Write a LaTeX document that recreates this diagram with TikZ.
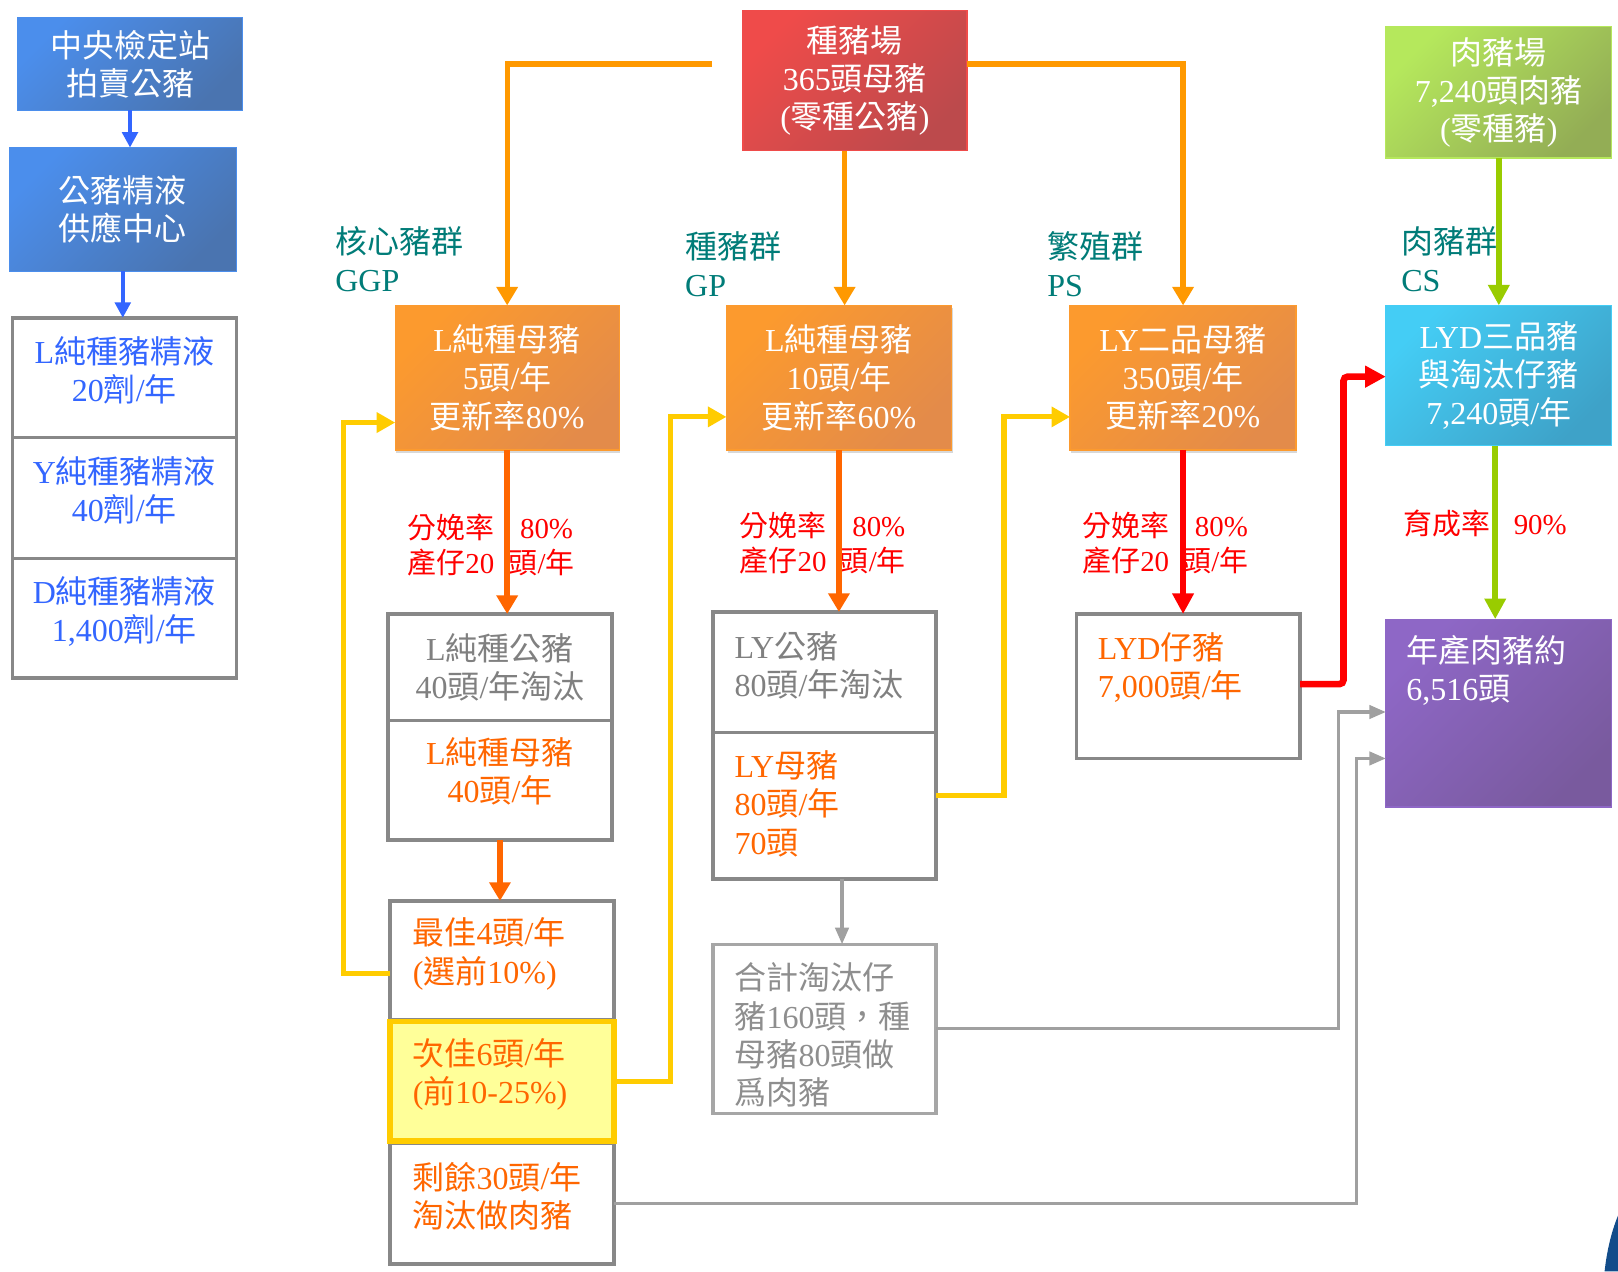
\documentclass[tikz,border=0pt]{standalone}
\usepackage{fontspec}
\setmainfont{Liberation Serif}
\newfontfamily\latinfont{Liberation Serif}
\newfontfamily\cjkfont{Noto Sans CJK TC}
\usetikzlibrary{arrows.meta,shadows}

% Han characters and fullwidth forms switch to the CJK family automatically
\XeTeXinterchartokenstate=1
\newXeTeXintercharclass\HanCls
\newcount\hancnt
\hancnt="2E80
\loop\ifnum\hancnt<"A000 \XeTeXcharclass\hancnt=\HanCls \advance\hancnt by 1 \repeat
\hancnt="FF00
\loop\ifnum\hancnt<"FFF0 \XeTeXcharclass\hancnt=\HanCls \advance\hancnt by 1 \repeat
\hancnt=32
\loop\ifnum\hancnt<127 \XeTeXcharclass\hancnt=0 \advance\hancnt by 1 \repeat
\XeTeXinterchartoks 0 \HanCls = {\cjkfont}
\XeTeXinterchartoks 4095 \HanCls = {\cjkfont}
\XeTeXinterchartoks \HanCls 0 = {\latinfont}
\XeTeXinterchartoks \HanCls 4095 = {\latinfont}
\XeTeXinterchartoks 4095 0 = {\latinfont}

\pgfdeclarelayer{bg}
\pgfsetlayers{bg,main}

% box fills
\definecolor{cBlA}{HTML}{4B8EEC}\definecolor{cBlB}{HTML}{4A74B0}
\definecolor{cOrA}{HTML}{FC9A2E}\definecolor{cOrB}{HTML}{E38B4A}
\definecolor{cRdA}{HTML}{EF4B4A}\definecolor{cRdB}{HTML}{BC4A4C}
\definecolor{cGnA}{HTML}{B5E85C}\definecolor{cGnB}{HTML}{93AD55}
\definecolor{cCyA}{HTML}{44CDF5}\definecolor{cCyB}{HTML}{3EA2C8}
\definecolor{cPuA}{HTML}{8E67C6}\definecolor{cPuB}{HTML}{795A9E}
\definecolor{cYelFill}{HTML}{FFFF99}
% lines
\definecolor{lBlue}{HTML}{3366FF}
\definecolor{lOrange}{HTML}{FF9900}
\definecolor{lYellow}{HTML}{FFCC00}
\definecolor{lRed}{HTML}{FF0000}
\definecolor{lGreen}{HTML}{99CC00}
\definecolor{lOrRed}{HTML}{FF6600}
\definecolor{lGray}{HTML}{A0A0A0}
\definecolor{bGray}{HTML}{888888}
\definecolor{bLGray}{HTML}{A6A6A6}
% texts
\definecolor{tBlue}{HTML}{3366FF}
\definecolor{tOrange}{HTML}{FF6600}
\definecolor{tGray}{HTML}{808080}
\definecolor{tLGray}{HTML}{8E8E8E}
\definecolor{tTeal}{HTML}{007C78}
\definecolor{tRate}{HTML}{FF0000}
\definecolor{cSliver}{HTML}{124C8A}

% box from corner (#2,#3) to corner (#4,#5)
\newcommand\bx[7]{%
  \pgfmathsetmacro\bxcx{(#2+#4)/2}%
  \pgfmathsetmacro\bxcy{(#3+#5)/2}%
  \pgfmathsetmacro\bxw{(#4-#2)/2}%
  \pgfmathsetmacro\bxh{(#5-#3)/2}%
  \node[#6, minimum width=\bxw pt, minimum height=\bxh pt] (#1) at (\bxcx,\bxcy) {#7};%
}

\begin{document}
\begin{tikzpicture}[x=0.5pt,y=-0.5pt,
  every node/.style={inner sep=0pt, outer sep=0pt},
  btxt/.style={font=\fontsize{15.5}{18.5}\selectfont, align=center},
  ltxt/.style={font=\fontsize{15.5}{18.5}\selectfont, align=left, anchor=west},
  grp/.style={font=\fontsize{15.5}{18.5}\selectfont, align=left, anchor=west, text=tTeal},
  rate/.style={font=\fontsize{14}{17}\selectfont, align=left, anchor=west, text=tRate},
  shbox/.style 2 args={top color=#1, bottom color=#2, shading angle=45, draw=#1, line width=0.6pt},
  orbox/.style={shbox={cOrA}{cOrB}, drop shadow={shadow xshift=0.6pt, shadow yshift=-1.4pt, opacity=0.3}},
  gbox/.style={draw=bGray, line width=1.7pt, fill=white},
  blarr/.style={draw=lBlue, line width=2pt, -{Triangle[length=7pt,width=7.5pt]}},
  ortop/.style={draw=lOrange, line width=2.5pt, -{Triangle[length=9pt,width=10pt]}},
  ordn/.style={draw=lOrRed, line width=3pt, -{Triangle[length=9pt,width=10pt]}},
  yl/.style={draw=lYellow, line width=2.5pt, -{Triangle[length=9pt,width=9.5pt]}},
  rd/.style={draw=lRed, line width=3.2pt, -{Triangle[length=10pt,width=10pt]}},
  gn/.style={draw=lGreen, line width=3pt, -{Triangle[length=10pt,width=10pt]}},
  gy/.style={draw=lGray, line width=1.5pt, -{Triangle[length=8pt,width=6.5pt]}}
]
\fill[white] (0,0) rectangle (1568,1232);
\useasboundingbox (0,0) rectangle (1568,1232);

% ---- semen supply column ----
\bx{A}{17}{17}{235}{107}{shbox={cBlA}{cBlB}, btxt, text=white}{中央檢定站\\拍賣公豬}
\bx{B}{9}{143}{229}{263}{shbox={cBlA}{cBlB}, btxt, text=white}{公豬精液\\供應中心}
\bx{C1}{12}{308}{229}{424}{gbox, btxt, text=tBlue, text depth=8.5pt}{L純種豬精液\\20劑/年}
\bx{C2}{12}{424}{229}{541}{gbox, btxt, text=tBlue, text depth=8.5pt}{Y純種豬精液\\40劑/年}
\bx{C3}{12}{541}{229}{657}{gbox, btxt, text=tBlue, text depth=8.5pt}{D純種豬精液\\1,400劑/年}

% ---- farms ----
\bx{Red}{720}{10}{937}{146}{shbox={cRdA}{cRdB}, btxt, text=white}{種豬場\\365頭母豬\\(零種公豬)}
\bx{Grn}{1343}{26}{1562}{153}{shbox={cGnA}{cGnB}, btxt, text=white}{肉豬場\\7,240頭肉豬\\(零種豬)}

% ---- herd levels ----
\bx{GGP}{383}{296}{600}{436}{orbox, btxt, text=white}{L純種母豬\\5頭/年\\更新率80\%}
\bx{GP}{704}{296}{922}{436}{orbox, btxt, text=white}{L純種母豬\\10頭/年\\更新率60\%}
\bx{PS}{1037}{296}{1256}{436}{orbox, btxt, text=white}{LY二品母豬\\350頭/年\\更新率20\%}
\bx{CS}{1343}{296}{1562}{432}{shbox={cCyA}{cCyB}, btxt, text=white}{LYD三品豬\\與淘汰仔豬\\7,240頭/年}

\node[grp] (lGGP) at (325,251.5) {核心豬群\\GGP};
\node[grp] (lGP) at (664,256) {種豬群\\GP};
\node[grp] (lPS) at (1015,256) {繁殖群\\PS};
\node[grp] (lCS) at (1358,251.5) {肉豬群\\CS};

% ---- GGP offspring ----
\bx{D1}{376}{595}{593}{698}{gbox, btxt, text=tGray}{L純種公豬\\40頭/年淘汰}
\bx{D2}{376}{698}{593}{814}{gbox, btxt, text=tOrange, text depth=10pt}{L純種母豬\\40頭/年}
\bx{D3}{378}{873}{595}{988}{gbox}{}
\bx{D5}{378}{1108}{595}{1225}{gbox}{}
\bx{D4}{378}{990}{595}{1106}{draw=lYellow, line width=2.7pt, fill=cYelFill}{}
\node[ltxt, text=tOrange] (D3t) at (400,924.5) {最佳4頭/年\\(選前10\%)};
\node[ltxt, text=tOrange] (D4t) at (400,1041.5) {次佳6頭/年\\(前10-25\%)};
\node[ltxt, text=tOrange] (D5t) at (400,1159) {剩餘30頭/年\\淘汰做肉豬};

% ---- GP offspring ----
\bx{E1}{691}{593}{907}{710}{gbox}{}
\bx{E2}{691}{710}{907}{852}{gbox}{}
\bx{E3}{691}{915}{907}{1079}{draw=bLGray, line width=1.6pt, fill=white}{}
\node[ltxt, text=tGray] (E1t) at (712,644.5) {LY公豬\\80頭/年淘汰};
\node[ltxt, text=tOrange] (E2t) at (712,779) {LY母豬\\80頭/年\\70頭};
\node[ltxt, text=tLGray] (E3t) at (712,1003) {合計淘汰仔\\豬160頭，種\\母豬80頭做\\爲肉豬};

% ---- PS offspring and market pigs ----
\bx{F}{1043}{595}{1260}{735}{gbox}{}
\node[ltxt, text=tOrange] (Ft) at (1064,646.5) {LYD仔豬\\7,000頭/年};
\bx{P}{1343}{600}{1562}{782}{shbox={cPuA}{cPuB}}{}
\node[ltxt, text=white] (Pt) at (1363,649.5) {年產肉豬約\\6,516頭};

% ---- rates ----
\node[rate] (rGGP) at (395,528.5) {\makebox[54.5pt][l]{分娩率}80\%\\\makebox[49pt][l]{產仔20}頭/年};
\node[rate] (rGP) at (717,526.5) {\makebox[54.5pt][l]{分娩率}80\%\\\makebox[48.5pt][l]{產仔20}頭/年};
\node[rate] (rPS) at (1049,526.5) {\makebox[54.5pt][l]{分娩率}80\%\\\makebox[48.5pt][l]{產仔20}頭/年};
\node[rate] (rCS) at (1360,507) {\makebox[53.5pt][l]{育成率}90\%};

% ---- semen lines (run behind the herd boxes) ----
\begin{pgfonlayer}{bg}
\draw[blarr] (C1.east |- 0,346) -- (GGP.west |- 0,346);
\draw[blarr] (C2.east |- 0,482) -| (300,362) -- (GP.west |- 0,362);
\draw[blarr] (C3.east |- 0,598) -| (309,389.5) -- (PS.west |- 0,389.5);
\end{pgfonlayer}
\draw[blarr, -{Triangle[length=7.5pt,width=7.5pt]}] (A.south) -- (A.south |- B.north);
\draw[blarr, -{Triangle[length=7.5pt,width=7.5pt]}] (B.south) -- (B.south |- C1.north);

% ---- breeding farm supply ----
\coordinate (rg) at (690,62);
\draw[ortop] (rg) -| (GGP.north);
\draw[ortop] ([xshift=-5pt]Red.south) -- ([xshift=-5pt]Red.south |- GP.north);
\draw[ortop] ([yshift=8pt]Red.east) -| (PS.north);

% ---- farrowing ----
\draw[ordn] (GGP.south) -- (GGP.south |- D1.north);
\draw[ordn] (D2.south) -- (D2.south |- D3.north);
\draw[ordn] (GP.south) -- (GP.south |- E1.north);
\draw[rd] (PS.south) -- (PS.south |- F.north);
\draw[gy] ([xshift=8.5pt]E2.south) -- ([xshift=8.5pt]E2.south |- E3.north);

% ---- replacement gilts ----
\draw[yl] (D3.west |- 0,943) -| (333,409.5) -- (GGP.west |- 0,409.5);
\draw[yl] (D4.east |- 0,1048) -| (650,404) -- (GP.west |- 0,404);
\draw[yl] (E2.east |- 0,771) -| (973,404) -- (PS.west |- 0,404);

% ---- market pigs ----
\draw[rd, rounded corners=2pt] (F.east |- 0,663) -| (1302,365) -- (CS.west |- 0,365);
\draw[gn] (Grn.south) -- (Grn.south |- CS.north);
\draw[gn] ([xshift=-1.75pt]CS.south) -- ([xshift=-1.75pt]CS.south |- P.north);
\draw[gy] (E3.east |- 0,997) -| (1297,690) -- (P.west |- 0,690);
\draw[gy] (D5.east |- 0,1166) -| (1315,735) -- (P.west |- 0,735);

% corner ornament
\fill[cSliver] (1568,1178) .. controls (1561,1195) and (1557,1214) .. (1555,1232) -- (1568,1232) -- cycle;
\end{tikzpicture}
\end{document}
